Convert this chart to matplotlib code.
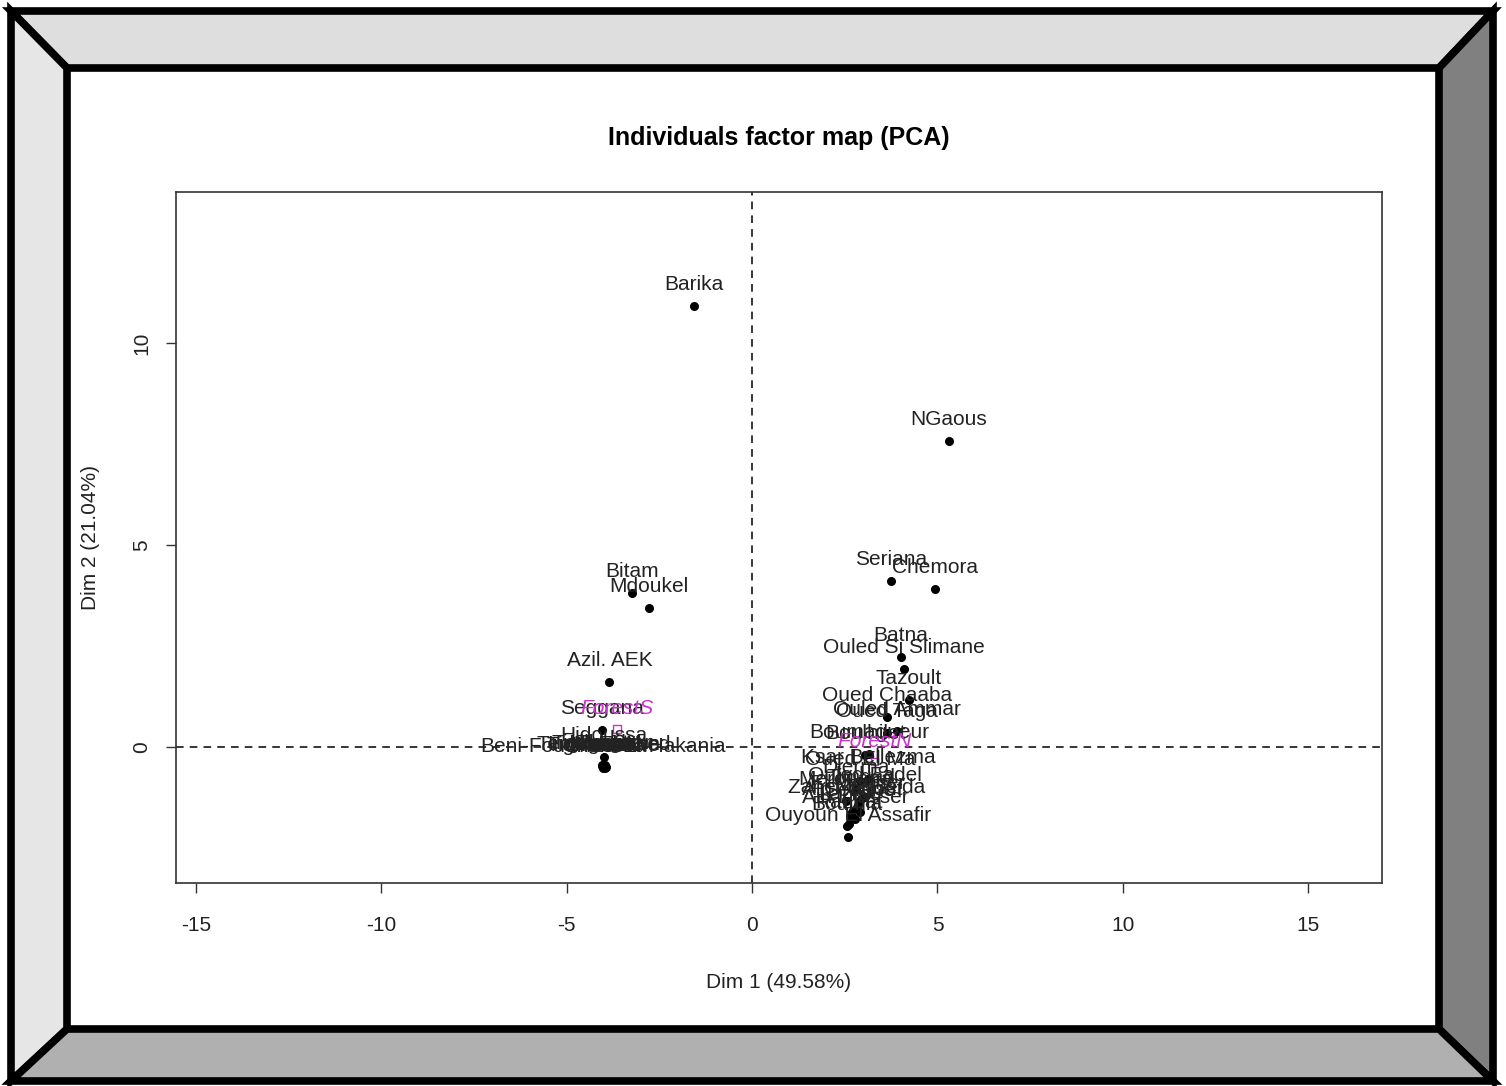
import matplotlib.pyplot as plt
from matplotlib.patches import Polygon

plt.rcParams['font.family'] = ['Liberation Sans', 'DejaVu Sans']
plt.rcParams['axes.unicode_minus'] = False

# individuals (Dim 1, Dim 2)
names = ["Barika", "NGaous", "Seriana", "Chemora", "Bitam", "Mdoukel", "Azil. AEK",
         "Batna", "Ouled Si Slimane", "Tazoult", "Oued Chaaba", "Ouled Ammar", "Oued Taga",
         "Boulhilet", "Boumagueur", "Oued El Ma", "Ksar Bellezma", "Djerma",
         "Merouana", "Zanet El Beida", "Timgad", "Ain Yagout", "El Madher", "Ouled Fadel",
         "Ain Djasser", "Lazrou", "Sefiane", "Boumia", "Rahbat", "Ouyoun El Assafir",
         "Seggana", "Hidoussa", "Tigharghar", "Inoughissen", "Menaa", "Tkout", "Ghassira",
         "Teniet El Abed", "Arris", "Ichmoul", "Tighanimine", "Kimmel", "Maafa",
         "Beni-Foudhala-El-Hakania"]
dim1 = [-1.56, 5.31, 3.75, 4.93, -3.23, -2.78, -3.85,
        4.02, 4.10, 4.23, 3.64, 3.91, 3.64,
        3.05, 3.15, 2.91, 3.13, 2.80,
        2.53, 2.83, 2.95, 2.70, 2.85, 3.05,
        2.78, 2.65, 2.90, 2.55, 2.62, 2.59,
        -4.05, -3.99, -4.05, -4.00, -3.95, -4.02, -3.97,
        -4.00, -4.03, -3.98, -4.01, -3.96, -4.04,
        -4.02]
dim2 = [10.92, 7.57, 4.11, 3.91, 3.81, 3.44, 1.61,
        2.23, 1.93, 1.16, 0.74, 0.40, 0.35,
        -0.20, -0.18, -0.84, -0.80, -1.05,
        -1.34, -1.53, -1.30, -1.60, -1.45, -1.25,
        -1.78, -1.70, -1.62, -1.95, -1.90, -2.23,
        0.42, -0.25, -0.45, -0.48, -0.50, -0.46, -0.52,
        -0.47, -0.49, -0.44, -0.51, -0.50, -0.48,
        -0.52]

# supplementary categories
sup_names = ["ForestS", "ForestN"]
sup_dim1 = [-3.65, 3.30]
sup_dim2 = [0.45, -0.36]

xticks = [-15, -10, -5, 0, 5, 10, 15]
yticks = [0, 5, 10]

fig = plt.figure(figsize=(15.06, 10.86), dpi=100)

# picture frame (pixel coords, top-left origin)
W, H = 1506, 1086
def fp(x, y):
    return (x / W, 1 - y / H)
oTL, oTR, oBR, oBL = fp(11, 11), fp(1493, 11), fp(1493, 1081), fp(11, 1081)
iTL, iTR, iBR, iBL = fp(67, 68), fp(1439, 68), fp(1439, 1029), fp(67, 1029)
for pts, col in [([oTL, oTR, iTR, iTL], "#dedede"),
                 ([oTL, iTL, iBL, oBL], "#e6e6e6"),
                 ([oTR, oBR, iBR, iTR], "#808080"),
                 ([oBL, iBL, iBR, oBR], "#b0b0b0")]:
    fig.add_artist(Polygon(pts, closed=True, facecolor=col, edgecolor="black",
                           linewidth=5.5, joinstyle="miter",
                           transform=fig.transFigure))

ax = fig.add_axes([176 / W, 1 - 883 / H, (1382 - 176) / W, (883 - 192) / H])
ax.set_xlim(-15.54, 16.99)
ax.set_ylim(-3.37, 13.74)

ax.axhline(0, color="black", lw=1.1, ls=(0, (5, 4)), zorder=1)
ax.axvline(0, color="black", lw=1.1, ls=(0, (5, 4)), zorder=1)

ax.scatter(dim1, dim2, s=30, color="black", zorder=3)
for n, x, y in zip(names, dim1, dim2):
    ax.annotate(n, (x, y), xytext=(0, 15.5), textcoords="offset points",
                ha="center", va="center", fontsize=15, color="#222222", zorder=4)

ax.scatter(sup_dim1, sup_dim2, s=30, marker="s", facecolor="none",
           edgecolor="#cc33cc", zorder=3)
for n, x, y in zip(sup_names, sup_dim1, sup_dim2):
    ax.annotate(n, (x, y), xytext=(0, 14.5), textcoords="offset points",
                ha="center", va="center", fontsize=15, color="#cc33cc",
                style="italic", zorder=5)

ax.set_xticks(xticks)
ax.set_yticks(yticks)
ax.tick_params(axis="both", labelsize=15, length=7, width=1, color="#333333",
               labelcolor="#222222")
ax.tick_params(axis="x", pad=17)
ax.tick_params(axis="y", pad=11)
for lab in ax.get_yticklabels():
    lab.set_rotation(90)
    lab.set_va("center")
for sp in ax.spines.values():
    sp.set_color("#333333")
    sp.set_linewidth(1.2)

ax.set_title("Individuals factor map (PCA)", fontsize=18, fontweight="bold",
             y=(883 - 146) / 691, va="center")
ax.set_xlabel("Dim 1 (49.58%)", fontsize=15, color="#222222", va="center")
ax.xaxis.set_label_coords(0.5, (883 - 983) / 691)
ax.set_ylabel("Dim 2 (21.04%)", fontsize=15, color="#222222", va="center")
ax.yaxis.set_label_coords((90 - 176) / 1206, 0.5)

fig.savefig("out.png", dpi=100)
